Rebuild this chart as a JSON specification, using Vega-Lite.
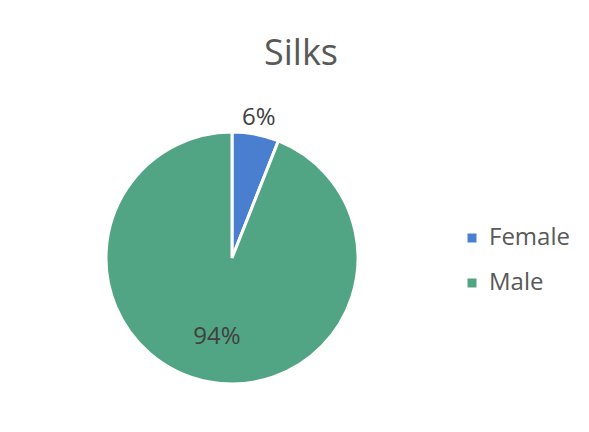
{
  "$schema": "https://vega.github.io/schema/vega-lite/v6.json",
  "width": 252,
  "height": 252,
  "autosize": "none",
  "padding": {"left": 106, "top": 132, "right": 231, "bottom": 48},
  "background": "white",
  "config": {"view": {"stroke": null}, "font": "Open Sans"},
  "title": {"text": "Silks", "fontSize": 36, "font": "Open Sans", "fontWeight": "normal", "color": "#595959", "dx": 69, "offset": 33},
  "data": {"values": [{"gender": "Female", "share": 0.06}, {"gender": "Male", "share": 0.94}]},
  "encoding": {
    "theta": {"field": "share", "type": "quantitative", "stack": true},
    "order": {"field": "gender", "type": "nominal", "sort": "ascending"}
  },
  "layer": [
    {
      "mark": {"type": "arc", "stroke": "white", "strokeWidth": 3},
      "encoding": {
        "color": {
          "field": "gender", "type": "nominal",
          "scale": {"domain": ["Female", "Male"], "range": ["#4a7fcf", "#52a584"]},
          "legend": {"title": null, "orient": "none", "legendX": 354, "legendY": 94, "symbolType": "square", "symbolSize": 81, "labelFontSize": 24, "labelColor": "#595959", "labelFont": "Open Sans", "labelOffset": 5, "rowPadding": 21, "padding": 0, "symbolStrokeWidth": 0}
        }
      }
    },
    {
      "mark": {"type": "text", "fontSize": 24, "color": "#404040", "font": "Open Sans"},
      "encoding": {
        "text": {"field": "share", "type": "quantitative", "format": ".0%"},
        "radius": {"field": "share", "type": "quantitative", "scale": {"type": "linear", "zero": false, "domain": [0.06, 0.94], "range": [143, 80]}}
      }
    }
  ]
}
